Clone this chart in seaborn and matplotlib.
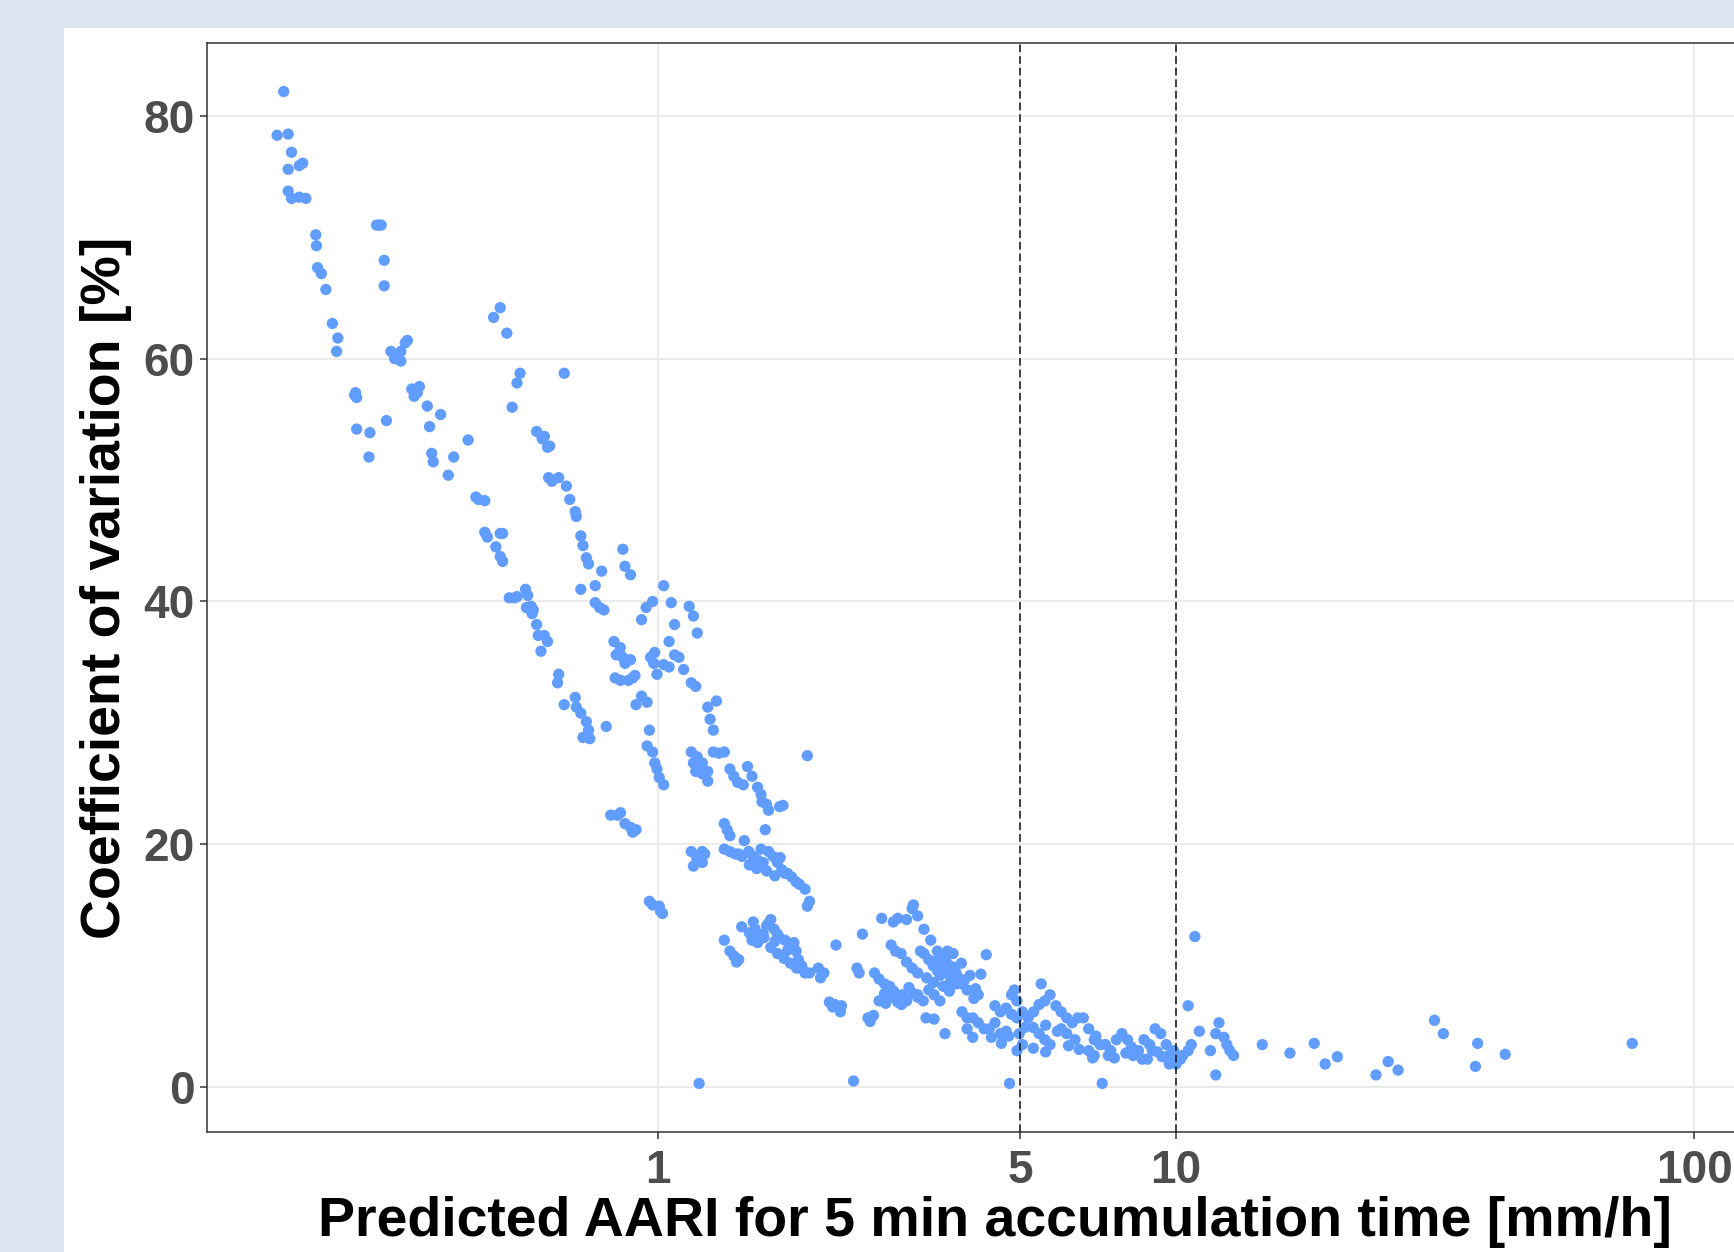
import numpy as np
import pandas as pd
import matplotlib
matplotlib.use("Agg")
import matplotlib.pyplot as plt
import seaborn as sns
from matplotlib.patches import Rectangle
from matplotlib.ticker import FixedLocator, FixedFormatter, NullLocator

# ---------------- data ----------------
aari = [
    0.1893, 0.1838, 0.1931, 0.196, 0.1931, 0.2028, 0.206, 0.1931, 0.196, 0.2028, 0.2089,
    0.2183, 0.219, 0.220, 0.2238, 0.2283, 0.2350, 0.2408, 0.2395, 0.2594, 0.2618, 0.2605,
    0.2618, 0.2777, 0.2765, 0.2860, 0.2920, 0.2895, 0.2959, 0.2959, 0.2989,
    0.3048, 0.3124, 0.3186, 0.3249, 0.328, 0.3186, 0.310,
    0.3345, 0.3429, 0.346, 0.338, 0.3584, 0.362, 0.3655, 0.368, 0.3802, 0.3934, 0.4031, 0.4298,
    0.4448, 0.450, 0.4627, 0.4627, 0.468, 0.4812, 0.4956, 0.5104, 0.4860, 0.4956, 0.501,
    0.4956, 0.501, 0.5160, 0.5283, 0.534, 0.5226, 0.534, 0.5414,
    0.5547, 0.560, 0.5686, 0.574, 0.571, 0.557, 0.5827, 0.587, 0.603, 0.6117, 0.594,
    0.5827, 0.5972, 0.6030, 0.6117, 0.6175, 0.6145, 0.6238, 0.6427, 0.6427, 0.6395, 0.6587,
    0.6650, 0.6751, 0.6919, 0.6950, 0.6587, 0.6919, 0.6950,
    0.7092, 0.7268, 0.7340, 0.7160, 0.7380, 0.7092, 0.7092, 0.7160, 0.7268, 0.7340,
    0.7560, 0.7780, 0.7560, 0.7710, 0.7860, 0.7940,
    0.8100, 0.8340, 0.8460, 0.8630, 0.8845, 0.9065, 0.893,
    0.8550, 0.8630, 0.8845, 0.8217, 0.8421, 0.8550, 0.8630, 0.8845, 0.845, 0.8300,
    0.8260, 0.8460, 0.8760, 0.8930, 0.9020, 0.9065, 0.929, 0.948, 0.9757, 0.929, 0.952,
    0.952, 0.962, 0.9757, 0.962, 0.9757, 1.005, 1.020, 1.01,
    0.9670, 0.9850, 0.9810, 0.9950, 1.025, 1.050, 0.9850, 0.9950, 1.005, 1.025,
    1.025, 1.060, 1.076, 1.050, 1.076, 1.097, 1.120, 1.148, 1.159, 1.182,
    1.159, 1.170, 1.182, 1.195, 1.170, 1.190, 1.188, 1.170, 1.200,
    1.159, 1.20, 1.217, 1.23, 1.190, 1.217, 1.247, 1.247, 1.26, 1.278, 1.217, 1.247, 1.217,
    1.296, 1.278, 1.310, 1.342, 1.342, 1.359, 1.376,
    1.342, 1.376, 1.410, 1.43, 1.452, 1.342, 1.376, 1.400, 1.417, 1.431,
    1.376, 1.400, 1.424, 1.460, 1.488, 1.518, 1.556, 1.580,
    1.467, 1.496, 1.526, 1.556, 1.595,
    1.526, 1.540, 1.556, 1.518, 1.556, 1.595, 1.634, 1.650, 1.675, 1.700, 1.716,
    1.587, 1.618, 1.634, 1.610, 1.634, 1.666, 1.700, 1.733, 1.759, 1.716, 1.742,
    1.759, 1.803, 1.829, 1.847, 1.865, 1.893, 1.922, 1.960,
    1.777, 1.811, 1.847, 1.874, 1.922, 1.941, 1.941, 1.960,
    1.45, 1.50, 1.60, 1.65, 1.70, 1.75, 1.80, 1.85, 1.62, 1.68, 1.78, 1.90,
    1.50, 1.55, 1.62, 1.68, 1.72, 1.58,
    2.038, 2.059, 2.089, 2.141, 2.172, 2.194, 2.237, 2.259, 2.205, 2.248, 2.384,
    2.420, 2.444, 2.480, 2.542, 2.605, 2.567, 2.617, 2.670, 2.736,
    2.670, 2.736, 2.777, 2.845, 2.902, 2.960, 3.018, 3.11, 3.17,
    2.702, 2.818, 2.873, 2.945, 2.845, 2.902, 3.018, 3.093,
    3.018, 3.093, 3.170, 3.21, 3.26, 3.33, 3.395, 3.46, 3.50, 3.60, 3.67, 3.76,
    3.11, 3.17, 3.26, 3.36, 3.46, 3.53, 3.60, 3.67,
    3.17, 3.25, 3.33, 3.41, 3.50, 3.29, 3.41, 3.58, 3.62, 3.67, 3.71,
    3.76, 3.86, 3.95, 4.07, 4.15,
    3.86, 3.95, 4.05, 4.15, 4.26, 4.36, 4.47, 4.58, 4.70, 3.95, 4.05,
    4.30, 4.47, 4.58, 4.70, 4.81, 4.93, 5.05, 4.77, 4.87, 4.81, 4.93,
    4.98, 5.05, 4.93,
    3.3, 3.4, 3.5, 3.55, 3.65, 3.7, 3.8, 3.9, 4.0, 4.1, 3.45, 3.85, 4.2,
    2.75, 2.85, 2.95, 3.05, 2.8, 2.9,
    5.18, 5.31, 5.44, 5.49, 5.58, 5.71, 5.86, 6.00, 6.15,
    5.44, 5.58, 5.71, 6.00, 6.15, 6.30, 6.46, 6.38,
    6.62, 6.78, 6.95, 7.13, 6.78, 6.95, 7.20,
    7.30, 7.48, 7.67, 7.86, 8.06, 8.26, 8.46, 8.67, 8.89, 9.11, 9.34,
    9.57, 9.69, 9.81, 10.0, 10.2, 10.3, 10.55, 10.7, 10.55, 10.87, 11.09,
    11.65, 11.93, 11.93, 12.1, 12.37, 12.53, 12.7, 12.91,
    5.3, 5.6, 5.9, 6.2, 7.0, 7.6, 8.0, 8.8, 9.2, 9.9,
    4.4, 4.6, 4.75, 5.1,
    5.3, 5.6, 6.5, 6.9, 7.4, 8.2, 8.6, 9.0, 9.4, 9.7,
    14.67, 16.59, 18.48, 19.40, 20.48, 24.32, 25.67, 26.83,
    31.54, 32.81, 37.84, 38.21, 43.19, 75.97,
]

cv = [
    82.0, 78.4, 78.5, 77.0, 75.6, 75.9, 76.1, 73.8, 73.2, 73.3, 73.2,
    70.2, 69.3, 67.5, 67.0, 65.7, 62.9, 61.7, 60.6, 57.0, 56.8, 57.2,
    54.2, 53.9, 51.9, 71.0, 71.0, 71.0, 68.1, 66.0, 54.9,
    60.6, 60.2, 60.6, 61.3, 61.5, 59.8, 60.0,
    57.5, 57.2, 57.7, 56.9, 56.1, 54.4, 52.2, 51.5, 55.4, 50.4, 51.9, 53.3,
    48.6, 48.4, 48.3, 45.7, 45.3, 63.4, 64.2, 62.1, 44.5, 43.7, 43.3,
    45.6, 45.6, 40.3, 40.3, 40.4, 56.0, 58.0, 58.8,
    41.0, 40.5, 39.6, 39.3, 39.0, 39.5, 38.1, 37.2, 37.2, 36.7, 35.9,
    54.0, 53.4, 53.6, 52.7, 52.8, 50.2, 49.9, 50.2, 34.0, 33.3, 31.5,
    49.5, 48.4, 47.4, 47.0, 58.8, 32.1, 31.3,
    30.8, 30.1, 29.4, 28.8, 28.7, 41.0, 45.4, 44.6, 43.6, 43.1,
    41.3, 42.5, 39.9, 39.5, 39.3, 29.7,
    22.4, 22.4, 22.6, 21.7, 21.4, 21.2, 21.0,
    44.3, 42.9, 42.2, 36.7, 35.8, 35.4, 34.9, 35.2, 36.2, 35.6,
    33.7, 33.5, 33.5, 33.7, 33.9, 31.5, 38.5, 39.5, 40.0, 32.2, 31.7,
    28.1, 29.4, 27.6, 15.3, 15.0, 14.9, 14.3, 14.5,
    35.4, 35.8, 34.9, 34.0, 34.8, 34.6, 26.7, 26.2, 25.5, 24.9,
    41.3, 39.9, 38.1, 36.7, 35.6, 35.4, 34.4, 39.6, 33.3, 33.0,
    27.6, 26.7, 26.0, 26.2, 38.8, 37.4, 18.8, 18.2, 0.3,
    19.4, 19.0, 18.5, 19.2, 27.2, 26.7, 26.0, 31.3, 30.3, 29.4, 25.8, 25.2, 19.4,
    31.8, 27.6, 27.5, 27.6, 21.7, 21.2, 20.7,
    19.6, 19.4, 19.2, 19.2, 19.0, 12.1, 11.2, 10.8, 10.3, 10.5,
    26.2, 25.6, 25.1, 24.9, 26.4, 25.6, 24.7, 24.1,
    20.3, 19.4, 19.0, 18.7, 18.5,
    13.6, 13.0, 12.6, 12.1, 11.9, 12.6, 13.5, 13.8, 13.0, 12.6, 12.3,
    23.5, 23.3, 22.8, 21.2, 19.4, 19.0, 18.5, 17.9, 17.6, 23.1, 23.2,
    12.1, 11.7, 11.9, 11.2, 10.5, 10.0, 9.4, 9.4,
    17.6, 17.3, 16.9, 16.7, 16.3, 27.3, 14.9, 15.3,
    13.2, 12.7, 12.3, 11.5, 11.0, 10.6, 10.2, 9.8, 13.3, 12.0, 11.3, 9.7,
    18.3, 18.0, 17.8, 17.4, 18.9, 19.6,
    9.8, 9.0, 9.4, 7.0, 6.6, 6.8, 6.5, 6.7, 11.7, 6.2, 0.5,
    9.8, 9.4, 12.6, 5.7, 5.9, 5.4, 9.4, 8.9, 8.5,
    7.1, 7.7, 7.6, 7.4, 7.0, 7.6, 7.1, 7.7, 7.4,
    13.9, 11.7, 11.2, 11.0, 13.6, 13.9, 13.8, 14.7,
    10.3, 9.8, 9.4, 11.2, 11.0, 10.5, 10.0, 9.6, 9.8, 9.4, 8.7, 8.5,
    15.0, 14.1, 13.0, 12.1, 11.2, 10.7, 10.3, 9.6,
    7.6, 7.1, 8.0, 7.6, 7.1, 5.7, 5.6, 4.4, 11.2, 11.0, 11.0,
    9.4, 8.5, 8.0, 7.3, 7.6,
    6.2, 5.7, 5.7, 5.3, 4.8, 4.8, 5.3, 4.4, 4.6, 4.8, 4.1,
    10.9, 6.7, 6.2, 6.5, 6.0, 5.7, 6.2, 0.3, 8.0, 7.6, 7.1,
    4.4, 3.5, 3.0,
    9.0, 8.6, 9.2, 8.3, 7.9, 9.9, 9.0, 8.8, 9.2, 8.1, 10.4, 10.2, 9.3,
    6.9, 7.9, 6.8, 8.2, 8.3, 7.3,
    5.7, 6.2, 6.8, 8.5, 7.1, 7.6, 6.7, 6.2, 5.7,
    4.4, 3.9, 3.5, 4.8, 4.4, 5.3, 5.7, 3.9,
    5.7, 4.8, 3.9, 3.5, 3.0, 2.6, 0.3,
    3.5, 3.0, 3.9, 4.4, 3.9, 2.6, 3.0, 3.9, 3.5, 4.8, 4.4,
    3.5, 2.6, 2.1, 1.9, 2.3, 2.6, 3.0, 3.5, 6.7, 12.4, 4.6,
    3.0, 1.0, 4.4, 5.3, 4.1, 3.5, 3.0, 2.6,
    4.9, 5.1, 4.6, 3.4, 4.2, 2.4, 2.8, 2.3, 2.9, 3.0,
    4.1, 3.6, 4.2, 4.9,
    3.2, 2.9, 3.1, 2.4, 2.6, 3.3, 2.3, 3.0, 2.5, 1.9,
    3.5, 2.8, 3.6, 1.9, 2.5, 1.0, 2.1, 1.4,
    5.5, 4.4, 1.7, 3.6, 2.7, 3.6,
]

x_breaks = [1, 5, 10, 100]
x_break_labels = ["1", "5", "10", "100"]
y_breaks = [0, 20, 40, 60, 80]
y_break_labels = ["0", "20", "40", "60", "80"]
ref_lines = [5, 10]

x_title = "Predicted AARI for 5 min accumulation time [mm/h]"
y_title = "Coefficient of variation [%]"

df = pd.DataFrame({"aari": aari, "cv": cv})

# ---------------- figure ----------------
sns.set_theme(style="white")
plt.rcParams["font.family"] = ["Liberation Sans", "DejaVu Sans"]

W, H = 1734, 1252
fig = plt.figure(figsize=(W / 100, H / 100), dpi=100)
fig.patch.set_facecolor("#dce6f2")
fig.patches.append(Rectangle((64 / W, 0), 1.2, 1 - 27.5 / H, transform=fig.transFigure,
                             facecolor="white", edgecolor="none", zorder=-10))

left, right, top, bottom = 207, 1783, 43, 1132
ax = fig.add_axes([left / W, 1 - bottom / H, (right - left) / W, (bottom - top) / H])
ax.set_facecolor("white")

sns.scatterplot(data=df, x="aari", y="cv", ax=ax, color="#619CFF", s=66,
                linewidth=0, edgecolor="none", zorder=2, legend=False)

for v in ref_lines:
    ax.axvline(v, color="#111111", lw=1.1, ls=(0, (5, 2.6)), zorder=3)

ax.set_xscale("log")
ax.set_xlim(0.1346, 148.5)
ax.set_ylim(-3.7, 86)

ax.xaxis.set_major_locator(FixedLocator(x_breaks))
ax.xaxis.set_major_formatter(FixedFormatter(x_break_labels))
ax.xaxis.set_minor_locator(NullLocator())
ax.yaxis.set_major_locator(FixedLocator(y_breaks))
ax.yaxis.set_major_formatter(FixedFormatter(y_break_labels))

ax.grid(True, which="major", color="#ebebeb", lw=1.4, zorder=0)
ax.set_axisbelow(True)

for sp in ax.spines.values():
    sp.set_color("#333333")
    sp.set_linewidth(1.1)
    sp.set_visible(True)

ax.tick_params(axis="both", which="major", length=5, width=1.1, color="#333333",
               labelcolor="#4d4d4d", labelsize=33, bottom=True, left=True)
ax.tick_params(axis="x", pad=7)
ax.tick_params(axis="y", pad=4)
for lab in ax.get_xticklabels() + ax.get_yticklabels():
    lab.set_fontweight("bold")

ax.set_xlabel(x_title, fontsize=40, fontweight="bold", color="black")
ax.set_ylabel(y_title, fontsize=40, fontweight="bold", color="black")
ax.xaxis.set_label_coords(0.5, (bottom - 1222) / (bottom - top))
ax.xaxis.label.set_va("center")
ax.yaxis.set_label_coords((106 - left) / (right - left), 0.5)
ax.yaxis.label.set_va("center")

fig.savefig("out.png", dpi=100, facecolor=fig.get_facecolor())
